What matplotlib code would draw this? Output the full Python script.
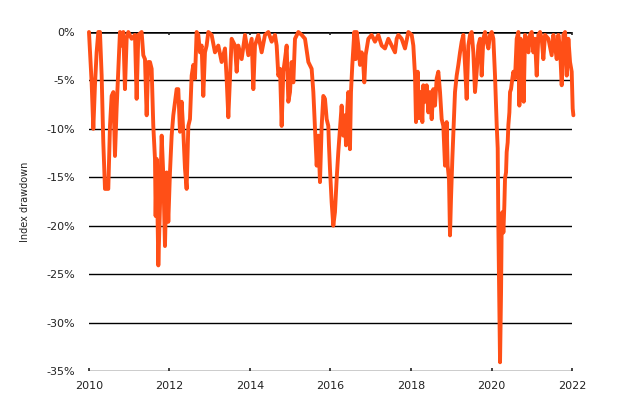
import numpy as np
import matplotlib
matplotlib.use('Agg')
import matplotlib.pyplot as plt
from matplotlib.ticker import FuncFormatter

# --- Data (decimal year, drawdown in %) ---
years_2010_11 = [2010.00, 2010.066, 2010.108, 2010.149, 2010.19, 2010.232, 2010.273, 2010.315,
                 2010.356, 2010.398, 2010.48, 2010.522, 2010.563, 2010.605, 2010.646, 2010.687,
                 2010.729, 2010.77, 2010.811, 2010.853, 2010.894, 2010.936, 2010.977, 2011.06,
                 2011.143, 2011.184, 2011.226, 2011.308, 2011.35, 2011.391, 2011.433, 2011.474,
                 2011.516, 2011.557, 2011.598, 2011.64, 2011.656, 2011.681, 2011.723, 2011.764,
                 2011.806, 2011.847, 2011.888, 2011.93, 2011.971]
dd_2010_11 = [0.0, -5.2, -10.0, -5.5, -2.1, 0.0, 0.0, -4.5,
              -11.4, -16.2, -16.2, -9.7, -6.6, -6.2, -12.8, -7.9,
              -3.8, 0.0, -1.4, 0.0, -5.9, -0.7, 0.0, -0.7,
              -0.3, -6.9, -0.3, 0.0, -2.4, -2.8, -8.6, -3.1,
              -3.1, -3.8, -9.7, -13.1, -19.0, -13.1, -24.1, -18.0,
              -10.7, -14.8, -22.1, -14.5, -19.6]

years_2012_13 = [2012.012, 2012.054, 2012.095, 2012.178, 2012.219, 2012.261, 2012.302, 2012.344,
                 2012.385, 2012.426, 2012.468, 2012.509, 2012.551, 2012.592, 2012.633, 2012.675,
                 2012.716, 2012.758, 2012.799, 2012.84, 2012.882, 2012.923, 2012.965, 2013.047,
                 2013.13, 2013.213, 2013.296, 2013.379, 2013.42, 2013.462, 2013.503, 2013.544,
                 2013.627, 2013.669, 2013.71, 2013.793, 2013.876, 2013.959]
dd_2012_13 = [-14.5, -10.7, -8.6, -5.9, -5.9, -10.3, -7.2, -10.3,
              -14.1, -16.2, -9.7, -9.0, -4.5, -3.4, -4.8, 0.0,
              -0.3, -2.1, -1.4, -6.6, -2.1, -1.4, 0.0, -0.3,
              -2.1, -1.4, -3.1, -1.7, -4.8, -8.8, -4.8, -0.7,
              -1.4, -4.1, -1.4, -2.8, -0.3, -2.4]

years_2014_15 = [2014.042, 2014.083, 2014.124, 2014.207, 2014.29, 2014.373, 2014.456, 2014.539,
                 2014.621, 2014.663, 2014.704, 2014.746, 2014.787, 2014.828, 2014.87, 2014.911,
                 2014.953, 2014.994, 2015.035, 2015.077, 2015.118, 2015.201, 2015.284, 2015.367,
                 2015.45, 2015.532, 2015.574, 2015.615, 2015.657, 2015.698, 2015.739, 2015.781,
                 2015.822, 2015.863, 2015.905]
dd_2014_15 = [-0.7, -5.9, -1.4, -0.3, -2.1, -0.3, 0.0, -1.0,
              -0.3, -1.4, -4.5, -3.8, -9.7, -4.1, -2.8, -1.4,
              -7.2, -6.2, -3.1, -5.2, -0.7, 0.0, -0.3, -0.7,
              -3.1, -3.8, -6.2, -10.0, -13.8, -10.7, -15.5, -9.7,
              -6.6, -6.9, -9.0]

years_2016_17 = [2015.946, 2015.962, 2015.987, 2016.029, 2016.07, 2016.111, 2016.153, 2016.194,
                 2016.236, 2016.277, 2016.318, 2016.36, 2016.385, 2016.418, 2016.443, 2016.484,
                 2016.509, 2016.542, 2016.592, 2016.625, 2016.65, 2016.691, 2016.733, 2016.774,
                 2016.815, 2016.84, 2016.873, 2016.94, 2017.022, 2017.105, 2017.188, 2017.271,
                 2017.354, 2017.437, 2017.52, 2017.603, 2017.644, 2017.685, 2017.768, 2017.851,
                 2017.934]
dd_2016_17 = [-9.7, -11.7, -14.1, -17.6, -20.0, -18.6, -15.2, -12.4,
              -10.0, -7.6, -10.7, -8.6, -11.7, -7.9, -6.2, -12.1,
              -6.2, -3.4, 0.0, -2.8, 0.0, -1.4, -3.4, -2.1,
              -3.4, -5.2, -2.4, -0.7, -0.3, -1.0, -0.3, -1.4,
              -1.7, -0.7, -1.4, -2.1, -0.7, -0.3, -0.7, -1.7,
              0.0]

years_2018_19 = [2018.017, 2018.058, 2018.1, 2018.124, 2018.166, 2018.199, 2018.24, 2018.282,
                 2018.306, 2018.348, 2018.389, 2018.431, 2018.472, 2018.514, 2018.555, 2018.596,
                 2018.638, 2018.679, 2018.721, 2018.762, 2018.803, 2018.845, 2018.886, 2018.911,
                 2018.944, 2018.969, 2018.994, 2019.027, 2019.06, 2019.093, 2019.135, 2019.176,
                 2019.218, 2019.259, 2019.3, 2019.342, 2019.383, 2019.425, 2019.466, 2019.507,
                 2019.549, 2019.59, 2019.632, 2019.673, 2019.715, 2019.756, 2019.797, 2019.839,
                 2019.88, 2019.922, 2019.963]
dd_2018_19 = [-0.3, -1.4, -4.5, -9.3, -4.1, -8.9, -6.2, -9.3,
              -5.5, -7.2, -5.5, -8.3, -6.2, -9.0, -5.9, -7.6,
              -4.8, -4.1, -6.2, -9.0, -9.7, -13.8, -9.3, -13.8,
              -15.2, -21.0, -17.2, -13.1, -9.7, -6.2, -4.5, -3.4,
              -2.1, -1.0, -0.3, -3.4, -6.9, -1.4, -0.3, 0.0,
              -2.1, -6.2, -4.1, -1.4, -0.7, -4.5, -0.7, 0.0,
              -1.0, -1.7, -0.3]

years_2020_21 = [2020.005, 2020.046, 2020.087, 2020.129, 2020.154, 2020.17, 2020.195, 2020.212,
                 2020.237, 2020.253, 2020.27, 2020.295, 2020.319, 2020.336, 2020.361, 2020.377,
                 2020.402, 2020.419, 2020.444, 2020.46, 2020.485, 2020.518, 2020.543, 2020.584,
                 2020.626, 2020.667, 2020.692, 2020.725, 2020.767, 2020.8, 2020.833, 2020.874,
                 2020.916, 2020.957, 2020.998, 2021.04, 2021.081, 2021.123, 2021.164, 2021.206,
                 2021.247, 2021.288, 2021.33, 2021.413, 2021.495, 2021.537, 2021.578, 2021.62,
                 2021.661, 2021.703, 2021.744, 2021.786, 2021.827, 2021.868, 2021.91, 2021.951,
                 2021.992, 2022.017, 2022.034]
dd_2020_21 = [0.0, -0.7, -4.5, -9.6, -12.0, -20.0, -28.6, -34.1,
              -26.9, -20.0, -18.6, -20.7, -17.9, -15.1, -14.5, -12.4,
              -11.4, -9.6, -8.3, -6.2, -5.9, -4.8, -4.1, -4.8,
              -0.7, 0.0, -7.6, -0.7, -1.4, -7.2, -0.3, -0.7,
              -2.1, -0.3, 0.0, -2.1, -0.7, -4.5, -0.3, 0.0,
              -0.7, -2.8, -0.3, -0.7, -2.4, -0.3, -1.4, -2.8,
              -0.3, -1.7, -5.5, -0.3, 0.0, -4.5, -0.7, -3.1,
              -4.1, -7.9, -8.6]

year_ticks = [2010, 2012, 2014, 2016, 2018, 2020, 2022]
pct_ticks = [0, -5, -10, -15, -20, -25, -30, -35]

# join the pieces into one series
years = np.concatenate([years_2010_11, years_2012_13, years_2014_15,
                        years_2016_17, years_2018_19, years_2020_21])
drawdown = np.concatenate([dd_2010_11, dd_2012_13, dd_2014_15,
                           dd_2016_17, dd_2018_19, dd_2020_21])

# --- Plot ---
plt.rcParams['font.family'] = ['DejaVu Sans']
fig = plt.figure(figsize=(6.2, 4.2), dpi=100)
ax = fig.add_axes([0.1435, 0.1167, 0.7791, 0.8071])

for t in pct_ticks[1:]:
    ax.axhline(t, color='black', lw=1.0, zorder=1)     # black gridlines
ax.axhline(0, color='black', lw=1.8, zorder=1)          # zero line a bit heavier

ax.plot(years, drawdown, color='#FF4F17', lw=2.8, solid_joinstyle='round',
        solid_capstyle='round', zorder=3, clip_on=False)

ax.set_xlim(2010, 2022)
ax.set_ylim(-35, 0)
ax.set_xticks(year_ticks)
ax.set_yticks(pct_ticks)
ax.yaxis.set_major_formatter(FuncFormatter(lambda v, p: f'{v:.0f}%'))

for s in ax.spines.values():
    s.set_visible(False)
ax.tick_params(axis='y', length=0, labelsize=8, pad=10, colors='#222222')
ax.tick_params(axis='x', length=0, labelsize=8, pad=7, colors='#222222')
# small year ticks hanging off the zero line
ax.tick_params(axis='x', top=True, labeltop=False, direction='in', length=2.5, width=1.2)
ax.set_ylabel('Index drawdown', fontsize=7, labelpad=12, color='#222222')

fig.savefig('out.png', dpi=100, facecolor='white')
